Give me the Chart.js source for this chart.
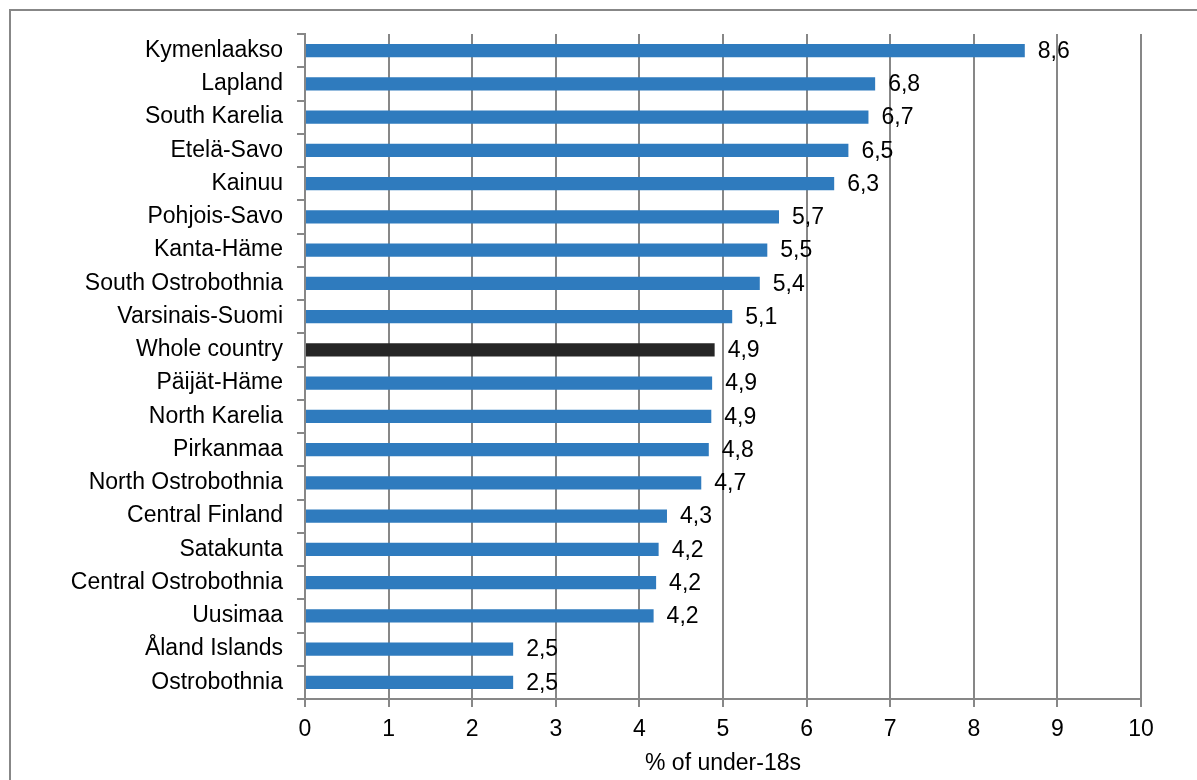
<!DOCTYPE html>
<html>
<head>
<meta charset="utf-8">
<script src="https://cdn.jsdelivr.net/npm/chart.js@4/dist/chart.umd.min.js"></script>
<style>
  html, body { margin: 0; padding: 0; background: #fff; }
  #wrap { width: 1197px; height: 780px; }
</style>
</head>
<body>
<div id="wrap"><canvas id="regionsChart" width="1197" height="780"></canvas></div>
<script>
// datos del grafico
const regions = ['Kymenlaakso', 'Lapland', 'South Karelia', 'Etelä-Savo', 'Kainuu',
  'Pohjois-Savo', 'Kanta-Häme', 'South Ostrobothnia', 'Varsinais-Suomi', 'Whole country',
  'Päijät-Häme', 'North Karelia', 'Pirkanmaa', 'North Ostrobothnia', 'Central Finland',
  'Satakunta', 'Central Ostrobothnia', 'Uusimaa', 'Åland Islands', 'Ostrobothnia']
const shares = [8.61, 6.82, 6.74, 6.50, 6.33, 5.67, 5.53, 5.44, 5.11, 4.90,
  4.87, 4.86, 4.83, 4.74, 4.33, 4.23, 4.20, 4.17, 2.49, 2.49]
const xTicks = [0, 1, 2, 3, 4, 5, 6, 7, 8, 9, 10]
const axisTitle = '% of under-18s'

const fontFamily = '"Liberation Sans", Arial, sans-serif'
Chart.defaults.font.family = fontFamily
Chart.defaults.font.size = 23
Chart.defaults.color = '#000'

const gridGrey = '#878787'

//marco gris alrededor del grafico
const frame = {
  id: 'frame',
  beforeDraw(chart) {
    const ctx = chart.ctx
    ctx.save()
    ctx.fillStyle = '#fff'
    ctx.fillRect(0, 0, chart.width, chart.height)
    ctx.strokeStyle = gridGrey
    ctx.lineWidth = 2
    ctx.strokeRect(10, 10, chart.width + 20, chart.height + 20)
    ctx.restore()
  }
}

//etiquetas con el valor al final de cada barra
const valueLabels = {
  id: 'valueLabels',
  afterDatasetsDraw(chart) {
    const ctx = chart.ctx
    const meta = chart.getDatasetMeta(0)
    ctx.save()
    ctx.font = '23px ' + fontFamily
    ctx.fillStyle = '#000'
    ctx.textAlign = 'left'
    ctx.textBaseline = 'middle'
    meta.data.forEach((bar, i) => {
      const txt = shares[i].toFixed(1).replace('.', ',')
      ctx.fillText(txt, bar.x + 13, bar.y + 1)
    })
    ctx.restore()
  }
}

const data = {
  labels: regions,
  datasets: [{
    data: shares,
    backgroundColor: regions.map(r => r === 'Whole country' ? '#262626' : '#2F7BBE'),
    borderWidth: 0,
    categoryPercentage: 1,
    barPercentage: 0.4
  }]
}

const options = {
  indexAxis: 'y',
  responsive: false,
  animation: false,
  layout: { padding: { left: 9, top: 34, right: 56, bottom: 0 } },
  plugins: {
    legend: { display: false },
    tooltip: { enabled: false }
  },
  scales: {
    x: {
      min: 0,
      max: 10,
      afterBuildTicks: s => { s.ticks = xTicks.map(v => ({ value: v })) },
      afterFit: s => { s.height = 81 },
      grid: { color: gridGrey, lineWidth: 2, tickLength: 8 },
      border: { color: gridGrey, width: 2 },
      ticks: { padding: 9, color: '#000' },
      title: { display: true, text: axisTitle, padding: { top: 4, bottom: 3 }, color: '#000' }
    },
    y: {
      afterFit: s => { s.width = 296 },
      grid: { drawOnChartArea: false, color: gridGrey, lineWidth: 2, tickLength: 8, offset: true },
      border: { color: gridGrey, width: 2 },
      ticks: { padding: 14, color: '#000', autoSkip: false }
    }
  }
}

new Chart('regionsChart', { type: 'bar', data, options, plugins: [frame, valueLabels] })
</script>
</body>
</html>
